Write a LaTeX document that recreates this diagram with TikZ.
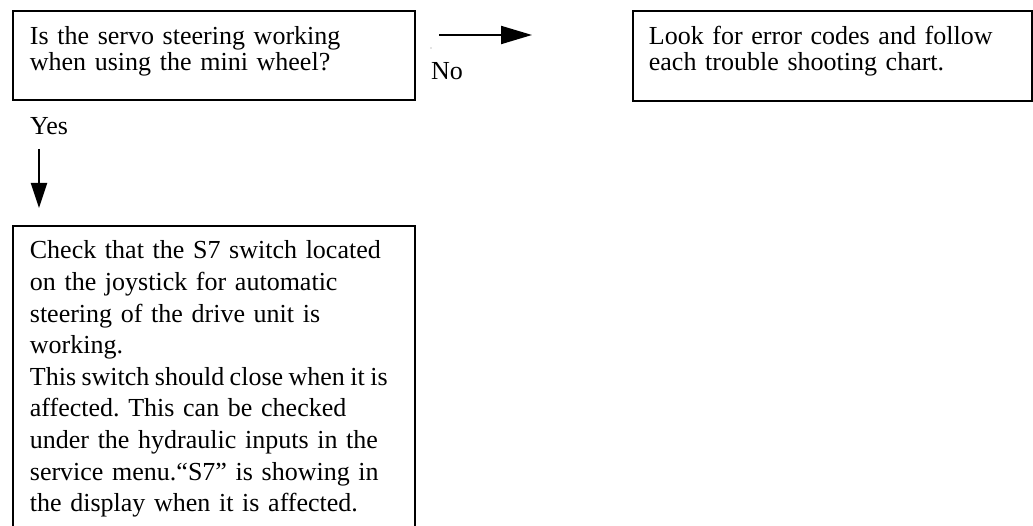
\documentclass[tikz,border=0pt]{standalone}
\usepackage{fontspec}
\setmainfont{Liberation Serif}
\usetikzlibrary{arrows.meta}
\frenchspacing
\begin{document}
\begin{tikzpicture}[x=1pt,y=1pt,
  txt/.style={font=\fontsize{26}{26}\selectfont\frenchspacing},
  widelines/.style={font=\fontsize{26}{31.6}\selectfont\frenchspacing},
  stepbox/.style={txt, draw, line width=1.8pt, align=left, anchor=north west,
    inner ysep=0pt, text height=34pt},
  flow/.style={line width=2pt},
  lbl/.style={txt, anchor=base west, inner sep=0pt}]
\useasboundingbox (0,0) rectangle (1033,-526);
\clip (0,0) rectangle (1033,-526);

% question
\node[stepbox, inner xsep=17pt, text width=368pt, text depth=55pt] (q1) at (12,-10)
  {\mbox{Is the servo steering working}\\\mbox{when using the mini wheel?}};

% "No" branch
\node[stepbox, inner xsep=16pt, text width=367pt, text depth=56pt] (q2) at (632,-10)
  {\mbox{Look for error codes and follow}\\\mbox{each trouble shooting chart.}};

% "Yes" branch
\node[stepbox, widelines, inner xsep=17pt, text width=368pt, text height=33pt, text depth=290pt] (q3) at (12,-225)
  {\mbox{Check that the S7 switch located}\\
   \mbox{on the joystick for automatic}\\
   \mbox{steering of the drive unit is}\\
   \mbox{working.}\\
   \mbox{\spaceskip=0.21em This switch should close when it is}\\
   \mbox{affected. This can be checked}\\
   \mbox{under the hydraulic inputs in the}\\
   \mbox{service menu.“S7” is showing in}\\
   \mbox{the display when it is affected.}};

% connectors
\coordinate (nostart) at (439,-35);
\coordinate (noend) at (532,-35);
\coordinate (yesstart) at (39,-149);
\coordinate (yesend) at (39,-208);
\draw[flow, -{Triangle[length=31pt,width=18pt]}] (nostart) -- (noend);
\draw[flow, -{Triangle[length=25pt,width=16pt]}] (yesstart) -- (yesend);

\node[lbl] (nolbl) at (431,-80) {No};
\node[lbl] (yeslbl) at (30,-135) {Yes};
\fill[black!45] (431,-48) circle (0.7pt);
\end{tikzpicture}
\end{document}
